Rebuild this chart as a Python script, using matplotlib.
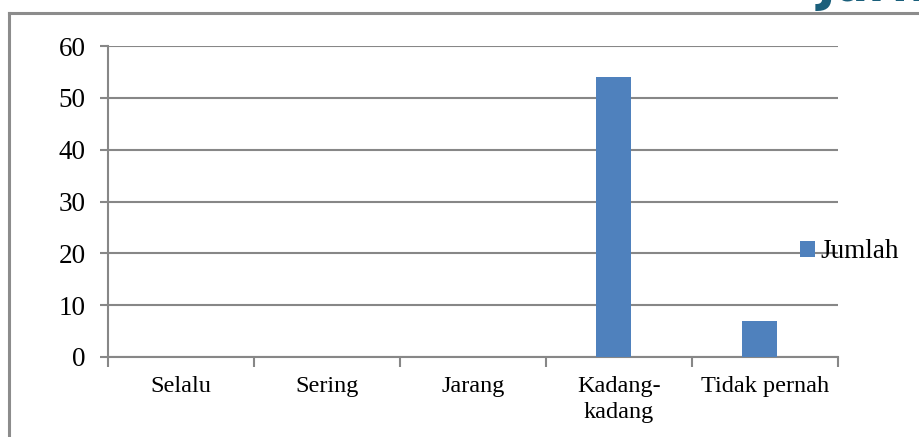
import matplotlib
matplotlib.use("Agg")
import matplotlib.pyplot as plt
from matplotlib.lines import Line2D
from matplotlib.patches import Patch

categories = ["Selalu", "Sering", "Jarang", "Kadang-\nkadang", "Tidak pernah"]
jumlah = [0, 0, 0, 54, 7]
series_name = "Jumlah"
y_ticks = [0, 10, 20, 30, 40, 50, 60]

W, H = 920, 437
plt.rcParams["font.family"] = ["Liberation Serif", "DejaVu Serif"]
fig = plt.figure(figsize=(W / 100, H / 100), dpi=100)

# plot area in pixel coordinates
left, right, top, bottom = 108, 838, 46, 357
ax = fig.add_axes([left / W, 1 - bottom / H, (right - left) / W, (bottom - top) / H])

grid_col = "#878787"
bar_col = "#4F81BD"

x = list(range(len(categories)))
ax.bar([i - 0.035 for i in x], jumlah, width=0.24, color=bar_col, zorder=3)

ax.set_xlim(-0.5, len(categories) - 0.5)
ax.set_ylim(0, 60)
ax.set_yticks(y_ticks)
ax.set_yticklabels([str(v) for v in y_ticks], fontsize=19.5)
ax.yaxis.grid(True, color=grid_col, linewidth=1.5, zorder=0)
ax.set_axisbelow(True)

ax.set_xticks([i + 0.5 for i in range(-1, len(categories))])
ax.set_xticklabels([])
ax.set_xticks(x, minor=True)
ax.set_xticklabels(categories, minor=True, fontsize=17.5, linespacing=1.3)
ax.tick_params(axis="x", which="minor", length=0, pad=14)
ax.tick_params(axis="x", which="major", length=7, width=1.5, color=grid_col, direction="out")
ax.tick_params(axis="y", length=6, width=1.5, color=grid_col, direction="out", pad=10)

for s in ["top", "right"]:
    ax.spines[s].set_visible(False)
for s in ["left", "bottom"]:
    ax.spines[s].set_color(grid_col)
    ax.spines[s].set_linewidth(1.5)

# legend on the right
handle = Patch(facecolor=bar_col, edgecolor="none")
fig.legend([handle], [series_name], loc="center left",
           bbox_to_anchor=(800 / W, 1 - 252 / H), frameon=False,
           fontsize=19.5, handlelength=0.56, handleheight=0.56, handletextpad=0.2,
           borderaxespad=0, borderpad=0)

# surrounding frame of the figure
fig.add_artist(Line2D([9 / W, 9 / W], [0, 1 - 13 / H], color="#8c8c8c", lw=2.2))
fig.add_artist(Line2D([9 / W, 1], [1 - 13 / H, 1 - 13 / H], color="#8c8c8c", lw=2.2))

# journal heading cut at the top edge
fig.text(818 / W, 1 - 1 / H, "Jurnal", color="#1a5f7b", fontsize=34,
         fontweight="bold", family="DejaVu Sans", ha="left", va="baseline")

fig.savefig("out.png", dpi=100, facecolor="white")
